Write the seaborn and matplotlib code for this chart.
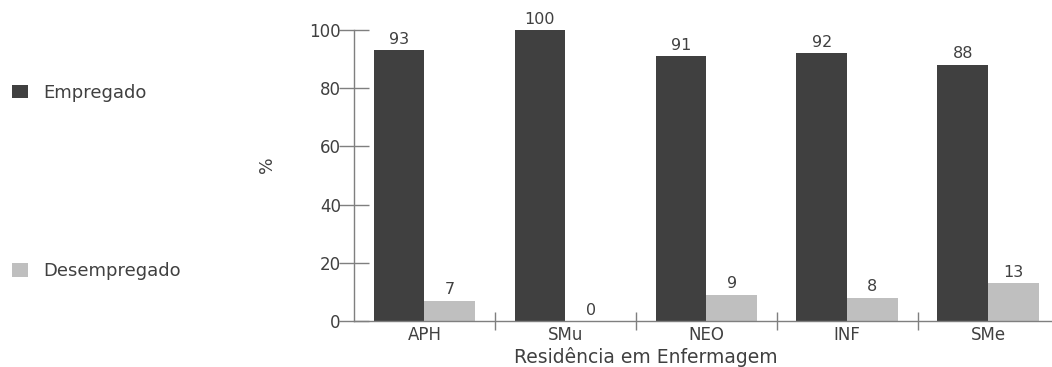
import matplotlib
matplotlib.use("Agg")
import matplotlib.pyplot as plt
import seaborn as sns
import pandas as pd
from matplotlib.patches import Patch

categories = ["APH", "SMu", "NEO", "INF", "SMe"]
empregado = [93, 100, 91, 92, 88]
desempregado = [7, 0, 9, 8, 13]
series_names = ["Empregado", "Desempregado"]
y_ticks = [0, 20, 40, 60, 80, 100]

DARK = "#404040"
LIGHT = "#bfbfbf"
TEXT = "#404040"
AXIS = "#7f7f7f"

df = pd.DataFrame({
    "cat": categories * 2,
    "val": empregado + desempregado,
    "status": [series_names[0]] * len(categories) + [series_names[1]] * len(categories),
})

sns.set_style("white")
plt.rcParams["font.family"] = ["DejaVu Sans"]

fig = plt.figure(figsize=(10.52, 3.67), dpi=100)
ax = fig.add_axes([354 / 1052, 1 - 321 / 367, 1 - 354 / 1052, (321 - 30) / 367])

sns.barplot(data=df, x="cat", y="val", hue="status", palette=[DARK, LIGHT],
            width=0.72, gap=0, ax=ax, legend=False, saturation=1, edgecolor="none")

for cont in ax.containers:
    ax.bar_label(cont, fmt="%d", padding=2.5, fontsize=11.5, color=TEXT, clip_on=False)

ax.set_ylim(0, 100)
ax.set_xlim(-0.5, 4.454)
ax.set_yticks(y_ticks)
ax.set_xticks(range(len(categories)))
ax.set_xticklabels(categories)
ax.set_xticks([i + 0.5 for i in range(len(categories) - 1)], minor=True)

ax.tick_params(axis="y", direction="inout", length=22, width=1, color=AXIS,
               labelsize=12, labelcolor=TEXT, pad=-1.5, left=True)
ax.tick_params(axis="x", which="major", length=0, pad=3.5, labelsize=12, labelcolor=TEXT)
ax.tick_params(axis="x", which="minor", direction="inout", length=13, width=1,
               color=AXIS, bottom=True)

for s in ["top", "right"]:
    ax.spines[s].set_visible(False)
for s in ["left", "bottom"]:
    ax.spines[s].set_color(AXIS)
    ax.spines[s].set_linewidth(1)

ax.set_xlabel("Residência em Enfermagem", fontsize=13.5, color=TEXT)
ax.xaxis.set_label_coords((646 - 354) / 698, (321 - 347) / 291)
ax.set_ylabel("%", fontsize=12.5, color=TEXT)
ax.yaxis.set_label_coords((276 - 354) / 698, (321 - 165) / 291)

handles = [Patch(facecolor=DARK, edgecolor="none"), Patch(facecolor=LIGHT, edgecolor="none")]
fig.legend(handles, series_names, loc="upper left", bbox_to_anchor=(12 / 1052, 1 - 83.5 / 367),
           frameon=False, fontsize=13, labelcolor=TEXT, handlelength=0.9, handleheight=0.75,
           handletextpad=0.85, labelspacing=8.9, borderpad=0, borderaxespad=0)

fig.savefig("out.png", dpi=100)
